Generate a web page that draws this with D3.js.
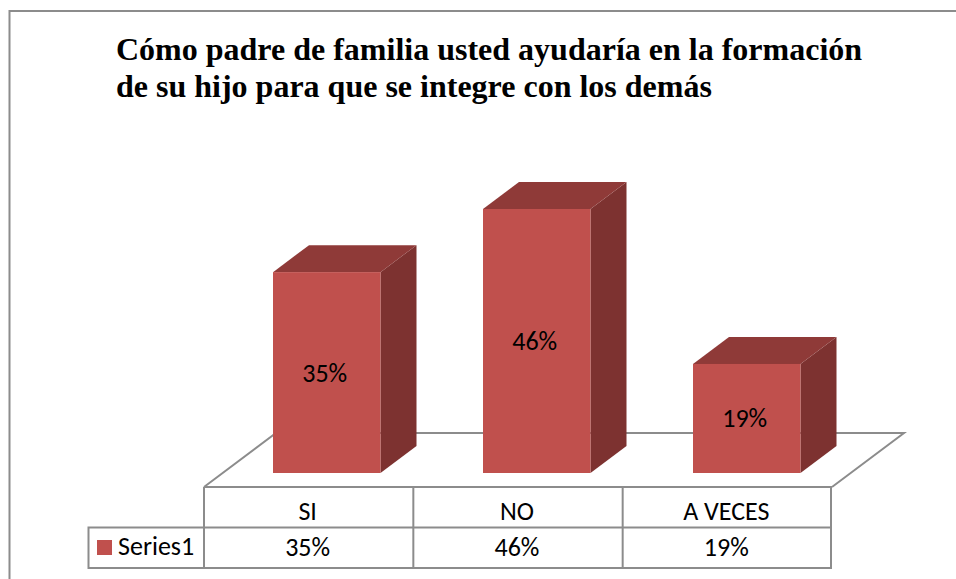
<!DOCTYPE html>
<html><head><meta charset="utf-8">
<script src="https://cdn.jsdelivr.net/npm/d3@7/dist/d3.min.js"></script>
<style>html,body{margin:0;padding:0;background:#fff}svg{display:block}</style>
</head><body><svg id="c" width="956" height="579"></svg>
<script>
const categories = ["SI","NO","A VECES"];
const values = [35,46,19];
const seriesName = "Series1";
const titleLines = ["Cómo padre de familia usted ayudaría en la formación","de su hijo para que se integre con los demás"];

const svg = d3.select("#c");
const grid = "#8c8c8c", front="#c0504d", side="#7d3230", top_="#8f3a38";
const bodyFont = "Carlito, 'Open Sans', 'Noto Sans', sans-serif";
const baseY = 473, dx = 36, dy = 27;
const y = d3.scaleLinear().domain([0,46]).range([baseY,209]);
const x = d3.scaleBand().domain(categories).range([204,832]);
const xBar = d3.scaleBand().domain(categories).range([204,834]);
const barW = 107.5;
const fmt = v => v + "%";
const fs = 26;

// frame: left and top edges only
svg.append("path").attr("d","M9.5,579V11H956").attr("fill","none").attr("stroke",grid).attr("stroke-width",2);

// title
svg.append("g").selectAll("text").data(titleLines).join("text")
  .attr("x",116).attr("y",(d,i)=>60+i*37)
  .attr("font-family","'Liberation Serif',serif").attr("font-weight","bold").attr("font-size",32)
  .attr("fill","#000").text(d=>d);

// floor
const fl = 204, fr = 832, fy = 487;
svg.append("path")
  .attr("d",d3.line()([[fl,fy],[fl+72,fy-54],[fr+72,fy-54],[fr,fy]]))
  .attr("fill","none").attr("stroke",grid).attr("stroke-width",2);

// bars
const bars = svg.append("g").selectAll("g").data(categories).join("g");
const bx = c => xBar(c)+69;
const val = i => values[i];
bars.append("path").attr("fill",side).attr("d",(c,i)=>{const a=bx(c)+barW,t=y(val(i));
  return d3.line()([[a,t],[a+dx,t-dy],[a+dx,baseY-dy],[a,baseY]]);});
bars.append("path").attr("fill",top_).attr("d",(c,i)=>{const a=bx(c),t=y(val(i));
  return d3.line()([[a,t],[a+dx,t-dy],[a+barW+dx,t-dy],[a+barW,t]]);});
bars.append("rect").attr("fill",front)
  .attr("x",c=>bx(c)).attr("width",barW)
  .attr("y",(c,i)=>y(val(i))).attr("height",(c,i)=>baseY-y(val(i)));
bars.append("text").attr("text-anchor","middle").attr("font-family",bodyFont).attr("font-size",fs).attr("fill","#000")
  .attr("x",c=>bx(c)+barW/2-2).attr("y",(c,i)=>(y(val(i))+baseY)/2+9).text((c,i)=>fmt(val(i)));

// data table
const r0=487,r1=527.5,r2=568;
const t = svg.append("g").attr("stroke",grid).attr("stroke-width",2).attr("fill","none");
t.append("path").attr("d",`M${fl},${r0}H${fr-1}V${r2}H88.5V${r1}H${fr-1}`);
categories.map(c=>x(c)).forEach(v=>{
  t.append("path").attr("d",`M${v},${r0}V${r2}`);
});
const cells = svg.append("g").attr("font-family",bodyFont).attr("font-size",fs).attr("fill","#000").attr("text-anchor","middle");
cells.selectAll("text.c").data(categories).join("text").attr("class","c").attr("x",c=>x(c)+x.bandwidth()/2-1).attr("y",520).text(c=>c);
cells.selectAll("text.v").data(categories).join("text").attr("class","v").attr("x",c=>x(c)+x.bandwidth()/2-1).attr("y",556).text((c,i)=>fmt(val(i)));
svg.append("rect").attr("x",97).attr("y",540).attr("width",15).attr("height",15).attr("fill",front);
svg.append("text").attr("x",118).attr("y",555).attr("font-family",bodyFont).attr("font-size",fs).attr("fill","#000").text(seriesName);
</script></body></html>
